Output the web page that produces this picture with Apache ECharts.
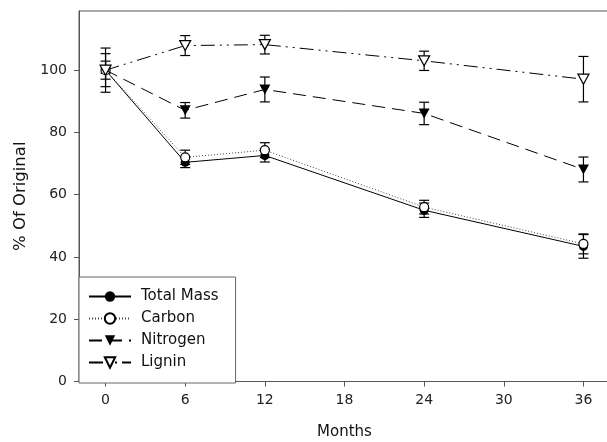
<!DOCTYPE html>
<html>
<head>
<meta charset="utf-8">
<script src="https://cdn.jsdelivr.net/npm/echarts@6/dist/echarts.min.js"></script>
<style>html,body{margin:0;padding:0;background:#fff;}#c{width:607px;height:442px;}</style>
</head>
<body>
<div id="c"></div>
<script>
const months = [0, 6, 12, 24, 36];
const xTicks = [0, 6, 12, 18, 24, 30, 36];
const yTicks = [0, 20, 40, 60, 80, 100];
const totalMass = [100, 70.4, 72.6, 55.0, 43.4];
const totalMassErr = [1.0, 1.7, 2.1, 2.3, 3.8];
const carbon = [100, 72.0, 74.3, 56.0, 44.2];
const carbonErr = [2.9, 2.3, 2.4, 2.2, 3.2];
const nitrogen = [100, 87.1, 93.8, 86.1, 68.1];
const nitrogenErr = [5.3, 2.5, 4.0, 3.6, 4.0];
const lignin = [100, 107.9, 108.2, 103.0, 97.1];
const ligninErr = [7.1, 3.2, 3.0, 3.1, 7.3];

const FONT = 'DejaVu Sans';

function pts(vals) { return months.map((m, i) => [m, vals[i]]); }
function errPts(vals, errs) { return months.map((m, i) => [m, vals[i], errs[i]]); }

function errSeries(vals, errs) {
  return {
    type: 'custom',
    z: 1,
    silent: true,
    encode: { x: 0, y: 1 },
    data: errPts(vals, errs),
    renderItem: function (params, api) {
      const x = api.value(0), y = api.value(1), e = api.value(2);
      const t = api.coord([x, y + e]);
      const b = api.coord([x, y - e]);
      const hw = 5;
      const st = { stroke: '#000', lineWidth: 1.2, fill: null };
      return {
        type: 'group',
        children: [
          { type: 'line', shape: { x1: t[0], y1: t[1], x2: b[0], y2: b[1] }, style: st },
          { type: 'line', shape: { x1: t[0] - hw, y1: t[1], x2: t[0] + hw, y2: t[1] }, style: st },
          { type: 'line', shape: { x1: b[0] - hw, y1: b[1], x2: b[0] + hw, y2: b[1] }, style: st }
        ]
      };
    }
  };
}

const chart = echarts.init(document.getElementById('c'), null, { renderer: 'canvas' });
chart.setOption({
  animation: false,
  backgroundColor: '#fff',
  textStyle: { fontFamily: FONT },
  grid: {
    left: 79, top: 11, width: 531, height: 370.5,
    outerBoundsMode: 'none',
    containLabel: false,
    show: true, borderColor: '#555', borderWidth: 1, backgroundColor: 'transparent'
  },
  xAxis: {
    type: 'value', min: -2, max: 38,
    name: 'Months', nameLocation: 'middle', nameGap: 43,
    nameTextStyle: { fontFamily: FONT, fontSize: 15, color: '#111' },
    axisLine: { show: true, onZero: false, lineStyle: { color: '#555', width: 1 } },
    axisTick: { show: true, length: 5, inside: false, customValues: xTicks, lineStyle: { color: '#555' } },
    axisLabel: { customValues: xTicks, margin: 12, fontFamily: FONT, fontSize: 14, color: '#222' },
    splitLine: { show: false }
  },
  yAxis: {
    type: 'value', min: 0, max: 119,
    name: '% Of Original', nameLocation: 'middle', nameGap: 50, nameRotate: 90,
    nameTextStyle: { fontFamily: FONT, fontSize: 16.5, color: '#111' },
    axisLine: { show: true, onZero: false, lineStyle: { color: '#555', width: 1 } },
    axisTick: { show: true, length: 5, inside: false, customValues: yTicks, lineStyle: { color: '#555' } },
    axisLabel: { customValues: yTicks, margin: 12, fontFamily: FONT, fontSize: 14, color: '#222' },
    splitLine: { show: false }
  },
  legend: {
    orient: 'vertical',
    left: 79, top: 277,
    padding: [12, 17, 13, 9],
    itemWidth: 42, itemHeight: 13, itemGap: 7,
    borderColor: '#666', borderWidth: 1,
    backgroundColor: '#fff',
    textStyle: { fontFamily: FONT, fontSize: 15, color: '#111', padding: [0, 0, 0, 5] },
    data: ['Total Mass', 'Carbon', 'Nitrogen', 'Lignin']
  },
  series: [
    errSeries(totalMass, totalMassErr),
    errSeries(carbon, carbonErr),
    errSeries(nitrogen, nitrogenErr),
    errSeries(lignin, ligninErr),
    {
      name: 'Total Mass', type: 'line', z: 3, data: pts(totalMass),
      symbol: 'circle', symbolSize: 9,
      itemStyle: { color: '#000' },
      lineStyle: { color: '#000', width: 1, type: 'solid' }
    },
    {
      name: 'Carbon', type: 'line', z: 4, data: pts(carbon),
      symbol: 'circle', symbolSize: 9,
      itemStyle: { color: '#fff', borderColor: '#000', borderWidth: 1.2 },
      lineStyle: { color: '#444', width: 1, type: [1, 2] }
    },
    {
      name: 'Nitrogen', type: 'line', z: 5, data: pts(nitrogen),
      symbol: 'triangle', symbolRotate: 180, symbolSize: [11, 10],
      itemStyle: { color: '#000' },
      lineStyle: { color: '#000', width: 1, type: [13, 7] }
    },
    {
      name: 'Lignin', type: 'line', z: 6, data: pts(lignin),
      symbol: 'triangle', symbolRotate: 180, symbolSize: [11, 10],
      itemStyle: { color: '#fff', borderColor: '#000', borderWidth: 1.2 },
      lineStyle: { color: '#000', width: 1, type: [14, 5, 2, 5, 2, 5] }
    }
  ]
});
</script>
</body>
</html>
